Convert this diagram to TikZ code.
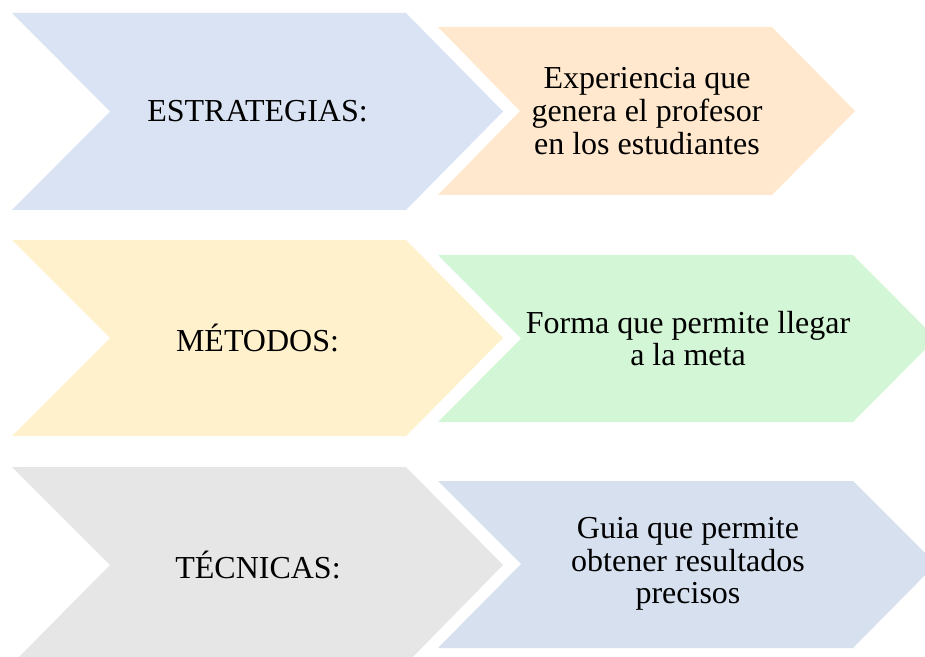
\documentclass[tikz,border=0pt]{standalone}
\usepackage{fontspec}
\setmainfont{Liberation Serif}
\usepackage{tikz}
\definecolor{azulC}{HTML}{DAE3F3}
\definecolor{naranjaC}{HTML}{FFE8CD}
\definecolor{amarilloC}{HTML}{FFF1CC}
\definecolor{verdeC}{HTML}{D3F6D6}
\definecolor{grisC}{HTML}{E6E6E6}
\definecolor{azulD}{HTML}{D6E0EE}
\tikzset{lbl/.style={font=\fontsize{16}{16.4}\selectfont, align=center, inner sep=0pt}}

\begin{document}
\begin{tikzpicture}[x=0.5pt,y=-0.5pt]
			\useasboundingbox (0,0) rectangle (925,657);
			\clip (0,0) rectangle (925,657);
			% fila 1
			\fill[azulC] (12,13) -- (406,13) -- (503,111.5) -- (406,210) -- (12,210) -- (110,111.5) -- cycle;
			\fill[naranjaC] (438,27) -- (772,27) -- (855,111) -- (772,195) -- (438,195) -- (520,111) -- cycle;
			% fila 2
			\fill[amarilloC] (12,240) -- (406,240) -- (503,338) -- (406,436) -- (12,436) -- (110,338) -- cycle;
			\fill[verdeC] (438,255) -- (853,255) -- (936,338.5) -- (853,422) -- (438,422) -- (521,338.5) -- cycle;
			% fila 3
			\fill[grisC] (12,467) -- (406,467) -- (503,565) -- (406,664) -- (12,664) -- (110,565) -- cycle;
			\fill[azulD] (438,481) -- (853,481) -- (936,564) -- (853,648) -- (438,648) -- (521,564) -- cycle;
			% textos
			\node[lbl] (estrategias) at (257.5,111.5) {ESTRATEGIAS:};
			\node[lbl] (experiencia) at (647,111) {Experiencia que\\genera el profesor\\en los estudiantes};
			\node[lbl] (metodos) at (257.5,338) {MÉTODOS:};
			\node[lbl] (forma) at (688,338.5) {Forma que permite llegar\\a la meta};
			\node[lbl] (tecnicas) at (258,565) {TÉCNICAS:};
			\node[lbl] (guia) at (688,564) {Guia que permite\\obtener resultados\\precisos};
\end{tikzpicture}
\end{document}
